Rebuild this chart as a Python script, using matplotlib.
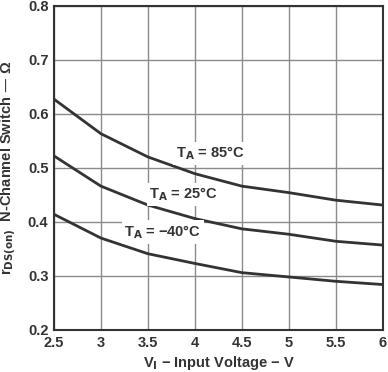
import matplotlib
matplotlib.use("Agg")
import matplotlib.pyplot as plt

plt.rcParams['font.family'] = ['Liberation Sans', 'DejaVu Sans']

vin = [2.5, 3.0, 3.5, 4.0, 4.5, 5.0, 5.5, 6.0]
r_85 = [0.627, 0.563, 0.520, 0.489, 0.466, 0.454, 0.440, 0.431]
r_25 = [0.522, 0.466, 0.431, 0.406, 0.387, 0.377, 0.364, 0.357]
r_m40 = [0.414, 0.370, 0.341, 0.323, 0.306, 0.298, 0.290, 0.284]
labels = [r'T$_\mathbf{A}$ = 85°C', r'T$_\mathbf{A}$ = 25°C', r'T$_\mathbf{A}$ = −40°C']
label_pos = [(4.16, 0.527), (3.88, 0.451), (3.66, 0.381)]
xticks = [2.5, 3, 3.5, 4, 4.5, 5, 5.5, 6]
xticklabels = ['2.5', '3', '3.5', '4', '4.5', '5', '5.5', '6']
yticks = [0.2, 0.3, 0.4, 0.5, 0.6, 0.7, 0.8]

fig = plt.figure(figsize=(3.88, 3.72), dpi=100)
ax = fig.add_axes([0.139, 0.113, 0.848, 0.872])

ax.set_xlim(2.5, 6)
ax.set_ylim(0.2, 0.8)
ax.set_xticks(xticks)
ax.set_xticklabels(xticklabels)
ax.set_yticks(yticks)
ax.set_yticklabels([f'{v:.1f}' for v in yticks])
ax.grid(True, color='#8a8a8a', linewidth=1.0)
ax.set_axisbelow(True)
for s in ax.spines.values():
    s.set_color('#333333')
    s.set_linewidth(1.5)
ax.tick_params(length=0, pad=4, labelsize=10.5)
for t in ax.get_xticklabels() + ax.get_yticklabels():
    t.set_fontweight('bold')
    t.set_color('#333333')

for ys in (r_85, r_25, r_m40):
    ax.plot(vin, ys, color='#333333', linewidth=2.0, zorder=3)

for (lx, ly), lab in zip(label_pos, labels):
    ax.text(lx, ly, lab, ha='center', va='center', fontsize=10.5, fontweight='bold',
            color='#333333', zorder=4,
            bbox=dict(facecolor='white', edgecolor='none', pad=2))

ax.set_xlabel(r'V$_\mathbf{I}$ − Input Voltage − V', fontsize=10.5, fontweight='bold',
              color='#333333', labelpad=3)
ax.set_ylabel(r'r$_\mathbf{DS(on)}$  N-Channel Switch — Ω', fontsize=10.5, fontweight='bold',
              color='#333333', labelpad=6)

fig.savefig('out.png', dpi=100)
